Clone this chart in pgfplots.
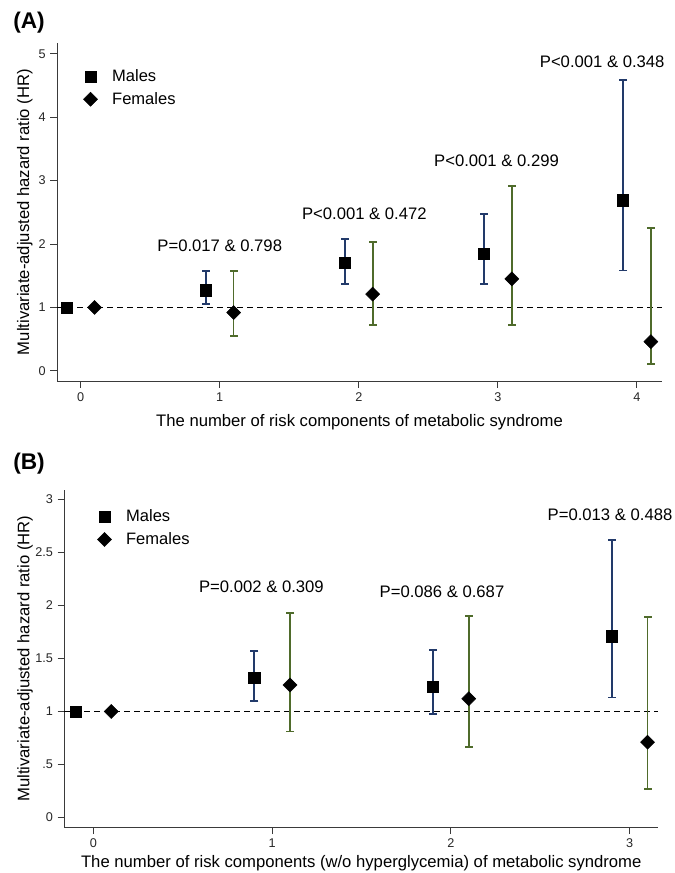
\documentclass[border=0pt]{standalone}
\usepackage{pgfplots}
\pgfplotsset{compat=1.18}
\usepackage{pgfplotstable}
\usepackage{fontspec}
\setmainfont{Liberation Sans}

\definecolor{mnavy}{HTML}{223A6A}
\definecolor{fgreen}{HTML}{4F6B2B}
\definecolor{axgray}{HTML}{3A3A3A}

% panel A: x, hr, upper-hr, hr-lower
\pgfplotstableread{
x    y     ep    em
0.9  1.27  0.30  0.22
1.9  1.70  0.38  0.33
2.9  1.85  0.62  0.48
3.9  2.69  1.90  1.11
}\maleA
\pgfplotstableread{
x    y     ep    em
1.1  0.92  0.65  0.37
2.1  1.21  0.82  0.485
3.1  1.45  1.47  0.725
4.1  0.46  1.79  0.355
}\femaleA
% panel B
\pgfplotstableread{
x    y     ep    em
0.9  1.32  0.25  0.22
1.9  1.23  0.35  0.255
2.9  1.71  0.91  0.58
}\maleB
\pgfplotstableread{
x    y     ep    em
1.1  1.25  0.68  0.44
2.1  1.12  0.78  0.455
3.1  0.71  1.18  0.44
}\femaleB

\tikzset{pnote/.style={font=\fontsize{12.5}{15}\selectfont, anchor=center}}
\pgfplotsset{
  hrstyle/.style={
    scale only axis,
    axis lines*=left,
    axis line style={axgray, line width=0.75pt},
    tick style={axgray, line width=0.75pt},
    major tick length=5pt,
    tick align=outside,
    every tick label/.append style={font=\fontsize{9.5}{11}\selectfont, text=black!85},
    /pgf/number format/assume math mode=true,
    label style={font=\fontsize{12.5}{15}\selectfont},
    ylabel={Multivariate-adjusted hazard ratio (HR)},
    legend style={draw=none, fill=none, font=\fontsize{12.4}{15}\selectfont,
      row sep=2.5pt, inner sep=0pt, cells={anchor=west}},
    legend image code/.code={%
      \path (-5pt,0pt) (14pt,0pt);
      \draw[#1] plot coordinates {(0pt,0pt)};},
    clip=false,
  },
  ebars/.style={only marks, mark=none, forget plot,
    error bars/.cd, y dir=both, y explicit, error mark=none,
    error bar style={line width=1.25pt, #1}},
  caps/.style={only marks, mark=-, mark size=3pt, forget plot,
    mark options={line width=1.25pt, #1}},
  msq/.style={only marks, mark=square*, mark size=4.2pt, black, forget plot},
  mdia/.style={only marks, mark=square*, mark size=3.7pt,
    mark options={rotate=45}, black, forget plot},
}
% bar with caps at y+ep and y-em
\newcommand{\cibar}[2]{%
  \addplot[ebars=#2] table[x=x, y=y, y error plus=ep, y error minus=em] {#1};
  \addplot[caps=#2] table[x=x, y expr=\thisrow{y}+\thisrow{ep}] {#1};
  \addplot[caps=#2] table[x=x, y expr=\thisrow{y}-\thisrow{em}] {#1};
}

\begin{document}
\begin{tikzpicture}
\path[use as bounding box] (0pt,0pt) rectangle (505.5pt,-654.75pt);

\node[font=\bfseries\fontsize{17}{20}\selectfont] at (21.75pt,-17.25pt) {(A)};
\begin{axis}[hrstyle,
  at={(42.75pt,-285.75pt)}, anchor=south west,
  width=453.75pt, height=253.5pt,
  xmin=-0.17, xmax=4.18, ymin=-0.16, ymax=5.17,
  xtick={0,1,2,3,4}, ytick={0,1,2,3,4,5},
  xlabel={The number of risk components of metabolic syndrome},
  xlabel style={at={(axis description cs:0.5,-0.121)}, anchor=center},
  ylabel style={at={(axis description cs:-0.053,0.5)}, anchor=center, rotate=0},
  legend style={at={(axis description cs:0.0435,0.93)}, anchor=north west},
]
\addlegendimage{only marks, mark=square*, mark size=4.2pt, black}
\addlegendentry{Males}
\addlegendimage{only marks, mark=square*, mark size=3.7pt, mark options={rotate=45}, black}
\addlegendentry{Females}
\addplot[black, dashed, dash pattern=on 4.5pt off 3pt, line width=0.85pt, forget plot]
  coordinates {(-0.17,1) (4.18,1)};
\cibar{\maleA}{mnavy}
\cibar{\femaleA}{fgreen}
\addplot[msq] table[x=x, y=y] {\maleA};
\addplot[msq] coordinates {(-0.1,1)};
\addplot[mdia] table[x=x, y=y] {\femaleA};
\addplot[mdia] coordinates {(0.1,1)};
\node[pnote] at (axis cs:1.0,1.98) {P=0.017 \& 0.798};
\node[pnote] at (axis cs:2.04,2.48) {P<0.001 \& 0.472};
\node[pnote] at (axis cs:2.99,3.31) {P<0.001 \& 0.299};
\node[pnote] at (axis cs:3.75,4.87) {P<0.001 \& 0.348};
\end{axis}

\node[font=\bfseries\fontsize{17}{20}\selectfont] at (21.75pt,-348pt) {(B)};
\begin{axis}[hrstyle,
  at={(48.2pt,-620.5pt)}, anchor=south west,
  width=445.5pt, height=253pt,
  xmin=-0.163, xmax=3.16, ymin=-0.094, ymax=3.09,
  xtick={0,1,2,3}, ytick={0,0.5,1,1.5,2,2.5,3},
  yticklabels={0,.5,1,1.5,2,2.5,3},
  xlabel={The number of risk components (w/o hyperglycemia) of metabolic syndrome},
  xlabel style={at={(axis description cs:0.5,-0.106)}, anchor=center},
  ylabel style={at={(axis description cs:-0.066,0.5)}, anchor=center, rotate=0},
  legend style={at={(axis description cs:0.0556,0.95)}, anchor=north west},
]
\addlegendimage{only marks, mark=square*, mark size=4.2pt, black}
\addlegendentry{Males}
\addlegendimage{only marks, mark=square*, mark size=3.7pt, mark options={rotate=45}, black}
\addlegendentry{Females}
\addplot[black, dashed, dash pattern=on 4.5pt off 3pt, line width=0.85pt, forget plot]
  coordinates {(-0.163,1) (3.16,1)};
\cibar{\maleB}{mnavy}
\cibar{\femaleB}{fgreen}
\addplot[msq] table[x=x, y=y] {\maleB};
\addplot[msq] coordinates {(-0.1,1)};
\addplot[mdia] table[x=x, y=y] {\femaleB};
\addplot[mdia] coordinates {(0.1,1)};
\node[pnote] at (axis cs:0.94,2.18) {P=0.002 \& 0.309};
\node[pnote] at (axis cs:1.95,2.13) {P=0.086 \& 0.687};
\node[pnote] at (axis cs:2.89,2.86) {P=0.013 \& 0.488};
\end{axis}
\end{tikzpicture}
\end{document}
